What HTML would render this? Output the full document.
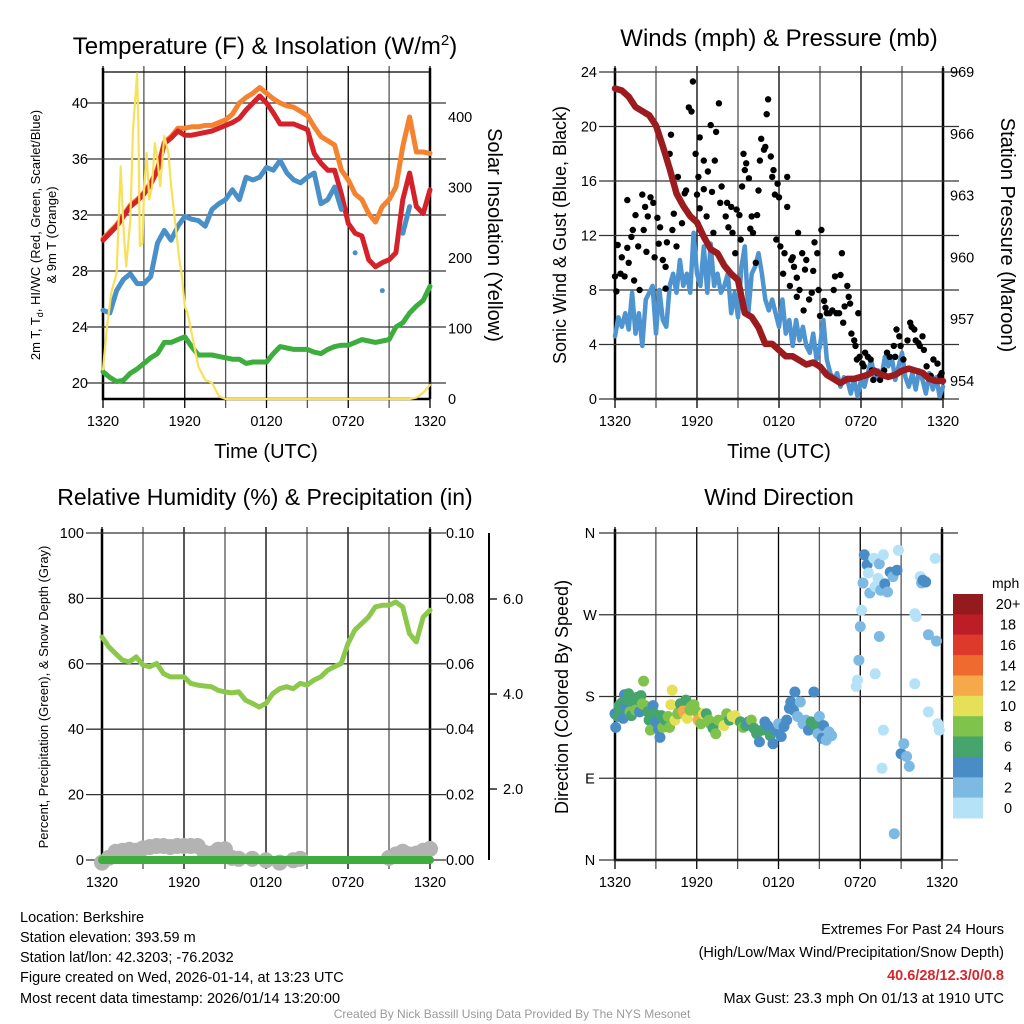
<!DOCTYPE html>
<html><head><meta charset="utf-8">
<style>
html,body{margin:0;padding:0;background:#fff;}
svg{display:block;font-family:"Liberation Sans",Arial,sans-serif;}
</style></head>
<body>
<svg id="fig" width="1024" height="1024" viewBox="0 0 1024 1024">
<rect width="1024" height="1024" fill="#fff"/>
<text x="265" y="54" font-size="24" text-anchor="middle">Temperature (F) &amp; Insolation (W/m<tspan dy="-9" font-size="15">2</tspan><tspan dy="9">)</tspan></text>
<text x="779" y="46" font-size="24" text-anchor="middle">Winds (mph) &amp; Pressure (mb)</text>
<text x="265" y="505" font-size="23" text-anchor="middle">Relative Humidity (%) &amp; Precipitation (in)</text>
<text x="779" y="505" font-size="23" text-anchor="middle">Wind Direction</text>

<text x="266" y="458" font-size="20" text-anchor="middle">Time (UTC)</text>
<text x="779" y="458" font-size="20" text-anchor="middle">Time (UTC)</text>
<text transform="translate(40,235) rotate(-90)" font-size="13" text-anchor="middle">2m T, T<tspan dy="3" font-size="9">d</tspan><tspan dy="-3">, HI/WC (Red, Green, Scarlet/Blue)</tspan></text>
<text transform="translate(56,235) rotate(-90)" font-size="13" text-anchor="middle">&amp; 9m T (Orange)</text>
<text transform="translate(488,235) rotate(90)" font-size="20" text-anchor="middle">Solar Insolation (Yellow)</text>
<text transform="translate(566,235) rotate(-90)" font-size="18" text-anchor="middle">Sonic Wind &amp; Gust (Blue, Black)</text>
<text transform="translate(1001,235) rotate(90)" font-size="20" text-anchor="middle">Station Pressure (Maroon)</text>
<text transform="translate(48,697) rotate(-90)" font-size="13" text-anchor="middle">Percent, Precipitation (Green), &amp; Snow Depth (Gray)</text>
<text transform="translate(568,697) rotate(-90)" font-size="18" text-anchor="middle">Direction (Colored By Speed)</text>
<text x="992" y="588" font-size="14" text-anchor="start">mph</text>

<g font-size="14.5">
<text x="20" y="922">Location: Berkshire</text>
<text x="20" y="942">Station elevation: 393.59 m</text>
<text x="20" y="962">Station lat/lon: 42.3203; -76.2032</text>
<text x="20" y="982">Figure created on Wed, 2026-01-14, at 13:23 UTC</text>
<text x="20" y="1003">Most recent data timestamp: 2026/01/14 13:20:00</text>
</g>
<g font-size="14.5" text-anchor="end">
<text x="1004" y="934">Extremes For Past 24 Hours</text>
<text x="1004" y="957">(High/Low/Max Wind/Precipitation/Snow Depth)</text>
<text x="1004" y="980" fill="#d7262c" font-weight="bold">40.6/28/12.3/0/0.8</text>
<text x="1004" y="1003">Max Gust: 23.3 mph On 01/13 at 1910 UTC</text>
</g>
<text x="512" y="1018" font-size="12" fill="#9a9a9a" text-anchor="middle">Created By Nick Bassill Using Data Provided By The NYS Mesonet</text>
</svg>
<script>
const xTickHours=[0,6,12,18,24];
const xTickLabels=['1320','1920','0120','0720','1320'];
// Temperature panel
const tHours=[0,0.5,1,1.5,2,2.5,3,3.5,4,4.5,5,5.5,6,6.5,7,7.5,8,8.5,9,9.5,10,10.5,11,11.5,12,12.5,13,13.5,14,14.5,15,15.5,16,16.5,17,17.5,18,18.5,19,19.5,20,20.5,21,21.5,22,22.5,23,23.5,24];
const tempRed=[30.2,30.7,31.2,31.9,32.6,33,33.5,34.2,35.2,37.1,37.5,38,37.7,37.7,37.8,37.9,38,38.2,38.4,38.6,38.9,39.5,40,40.5,40,39.3,38.5,38.5,38.5,38.3,38.1,36.4,35.7,35.2,35.2,33.5,31.4,30.7,30.5,28.8,28.3,28.6,28.8,29.3,33.1,35,32.6,32.1,33.8];
const tempOrange=[30.3,30.8,31.3,32,32.7,33.1,33.6,34.3,35.3,37.2,37.6,38.2,38.2,38.3,38.3,38.4,38.4,38.6,38.8,39.2,40,40.4,40.7,41.1,40.7,40.3,40,39.8,39.7,39.4,39.1,38.3,37.6,37.3,37,35.2,34.5,33.5,33.1,32.1,31.5,32.6,33.1,34,36.9,39,36.5,36.5,36.4];
const tempBlue=[25.2,25,26.6,27.4,27.8,27.1,27.1,27.6,30,30.9,30.2,31.2,31.9,31.7,31.6,31.2,32.4,32.8,33.1,33.8,33.1,34.7,34.5,34.7,35.4,35.2,35.9,35,34.5,34.3,34.7,35,32.8,33.1,34,32.4,null,29.3,null,null,null,26.6,null,null,30.7,32.6,null,null,null];
const dewGreen=[20.8,20.4,20.1,20.2,20.7,21,21.4,21.8,22.1,22.9,22.9,23.1,23.3,22.6,22,22,22,21.9,21.8,21.7,21.7,21.4,21.5,21.5,21.5,22.1,22.6,22.5,22.4,22.4,22.4,22.2,22.1,22.4,22.6,22.7,22.7,22.9,23.1,23,22.9,23,23.1,24,24.3,25,25.5,25.9,26.9];
const solarHours=[0,0.3,0.6,1,1.3,1.5,1.7,2,2.2,2.4,2.5,2.6,2.7,2.9,3,3.2,3.4,3.6,3.8,4,4.2,4.5,4.8,5,5.3,5.6,5.8,6,6.2,6.5,7,7.5,8,8.5,9,12,18,22.5,23,23.5,24];
const solarValues=[42,103,150,179,330,245,188,254,382,434,462,387,217,221,292,349,283,302,363,339,302,373,349,302,250,198,174,131,122,94,46,27,23,4,0,0,0,0,2,9,20];
const tempTicks=[20,24,28,32,36,40];
const solarTicks=[0,100,200,300,400];
// Winds panel
const wHours=[0,0.25,0.5,0.75,1,1.25,1.5,1.75,2,2.25,2.5,2.75,3,3.25,3.5,3.75,4,4.25,4.5,4.75,5,5.25,5.5,5.75,6,6.25,6.5,6.75,7,7.25,7.5,7.75,8,8.25,8.5,8.75,9,9.25,9.5,9.75,10,10.25,10.5,10.75,11,11.25,11.5,11.75,12,12.25,12.5,12.75,13,13.25,13.5,13.75,14,14.25,14.5,14.75,15,15.25,15.5,15.75,16,16.25,16.5,16.75,17,17.25,17.5,17.75,18,18.25,18.5,18.75,19,19.25,19.5,19.75,20,20.25,20.5,20.75,21,21.25,21.5,21.75,22,22.25,22.5,22.75,23,23.25,23.5,23.75,24];
const windSpeed=[4.6,6,5.3,6.3,5.1,7.8,4.8,6.3,3.9,7.3,7.8,8.3,4.8,8,5.8,5.3,8.3,9.2,7.8,10.2,8.3,9.2,7.8,12.2,9.2,8.3,11.2,7.8,11.4,8.3,9.2,7.8,8.3,9.2,6.3,7.8,6,9.7,11.2,6.3,9.2,9.7,10.7,9.2,7.3,6.5,7.3,6.3,5.3,7.3,4.8,5.8,3.9,5.8,4.3,5.3,3.9,3.4,4.8,2.9,3.9,5.8,2.9,1.9,1.4,1.9,0.9,1.6,1.4,0.4,1.4,0.2,1.4,0.9,1.9,2.9,1.4,2.1,1.6,3.1,2.4,3.1,1.4,2.4,3.4,1.6,0.9,1.9,0.7,2.1,1.4,0.4,1.9,0.7,1.6,0.2,0.9];
const pHours=[0,0.5,1,1.5,2,2.5,3,3.5,4,4.5,5,5.5,6,6.5,7,7.5,8,8.5,9,9.5,10,10.5,11,11.5,12,12.5,13,13.5,14,14.5,15,15.5,16,16.5,17,17.5,18,18.5,19,19.5,20,20.5,21,21.5,22,22.5,23,23.5,24];
const pressure=[968.2,968.1,967.8,967.3,967.1,966.9,966.4,965.4,964.3,963.1,962.5,962,961.7,961,960.4,960.2,959.6,959.2,958.9,957.3,957.1,956.6,955.8,955.8,955.5,955.2,955.2,955,954.8,954.9,954.7,954.3,954.1,953.9,954.1,954.1,954.2,954.3,954.5,954.3,954.2,954.3,954.5,954.6,954.5,954.4,954.1,954,954];
const gustHours=[0,0.1,0.2,0.4,0.5,0.7,0.9,0.9,1,1.2,1.3,1.4,1.5,1.7,1.8,2,2.1,2.2,2.3,2.4,2.6,2.8,2.9,3.1,3.2,3.3,3.5,3.7,3.7,3.8,4,4.1,4.2,4.3,4.5,4.6,4.9,5.1,5.2,5.4,5.6,5.7,5.9,6,6.1,6.2,6.2,6.5,6.5,6.7,6.8,7,7.1,7.2,7.3,7.4,7.6,7.7,7.8,8.1,8.2,8.3,8.5,8.6,8.8,8.9,9.1,9.2,9.3,9.4,9.5,9.6,9.8,9.9,10,10.1,10.3,10.4,10.5,10.6,10.7,10.9,11,11.1,11.2,11.4,11.5,11.6,11.7,11.8,11.9,12,12.1,12.3,12.4,12.6,12.6,12.8,12.9,13,13.1,13.3,13.3,13.4,13.5,13.7,13.8,13.9,14,14.2,14.4,14.5,14.6,14.8,14.9,15,15.1,15.3,15.4,15.5,15.7,15.9,16,16.1,16.2,16.4,16.5,16.6,16.7,16.8,17,17.1,17.2,17.3,17.5,17.6,17.7,17.8,17.9,18.1,18.2,18.3,18.5,18.7,18.8,18.9,19.2,19.4,19.7,19.9,20.1,20.4,20.5,20.6,20.8,20.9,21.1,21.4,21.6,21.7,21.9,22,22.2,22.3,22.5,22.6,22.8,23.1,23.3,23.6,23.8,23.9];
const gustValues=[9,7.9,11.3,9.2,10.4,9,11.1,14.6,10,11.9,12.4,8.7,13.5,11.2,8,15,12.4,14.1,10.8,13.4,14.8,14.4,10.4,13.3,11.4,12.6,10.2,9.7,8.1,11.5,18,19.4,12.4,13.6,11.2,16.3,12.9,15.1,15.3,21.4,21.1,23.3,18,15,16.3,19.2,14,17.5,15.4,13.4,16.7,20.1,15.2,12.2,17.5,19.6,21.7,14.4,15.6,13.4,14.4,12.6,14.1,12.2,10.7,13.9,13.5,11.7,15.6,18,16.8,17.3,16.2,12.5,13.4,12.2,10,13.5,15.3,17.5,19.1,18.3,18.5,20.9,22,17.8,16.3,16.8,15,11.7,15.8,14.8,11.2,9.2,10.7,14.1,16.3,8.3,10.2,10.4,9.7,8.9,7.5,12.2,8,10.7,6.5,9.5,10.2,7.3,7.8,9.4,11.5,10.7,8,6.1,12.4,7.2,6.7,6.3,6.3,6.5,8,9,6.3,6.3,9.1,10.7,5.6,6.8,8.3,7.5,7,4.8,4.3,3.9,2.9,6.3,3.1,2.6,2.4,3.4,3.1,2.9,2.1,1.4,1.9,1.4,2.1,3.4,3.1,3.9,3.1,5.1,4.6,3.9,2.9,4.3,5.6,5.3,5.1,4.3,4.1,3.9,4.6,3.6,2.4,1.7,2.9,2.6,1.7,1.9];
const windTicks=[0,4,8,12,16,20,24];
const pressureTicks=[954,957,960,963,966,969];
// Humidity panel
const rhHours=tHours;
const rhValues=[68.2,65.2,63.1,61.1,60.6,62.1,59.6,59.1,60.1,57,56,56,56,54,53.5,53.2,53,51.9,51.4,51.1,51.4,48.9,47.9,46.8,47.9,50.9,52.4,53,52.4,54,53.5,55,56,58,59.1,60.1,66.2,70.3,72.3,74.3,77.4,77.9,77.9,78.9,77.4,69.2,66.7,74.3,76.4];
const precipValues=[0,0,0,0,0,0,0,0,0,0,0,0,0,0,0,0,0,0,0,0,0,0,0,0,0,0,0,0,0,0,0,0,0,0,0,0,0,0,0,0,0,0,0,0,0,0,0,0,0];
const snowHours=[0,0.5,1,1.5,2,2.5,3,3.5,4,4.5,5,5.5,6,6.5,7,7.5,8,8.5,9,9.5,10,11,12,13,14,14.5,21,21.5,22,22.5,23,23.5,24];
const snowDepth=[0.45,0.55,0.68,0.7,0.72,0.7,0.75,0.78,0.8,0.8,0.78,0.8,0.8,0.8,0.8,0.66,0.64,0.72,0.73,0.55,0.53,0.53,0.5,0.45,0.5,0.53,0.55,0.62,0.68,0.62,0.64,0.7,0.74];
const rhTicks=[0,20,40,60,80,100];
const precipTicks=['0.00','0.02','0.04','0.06','0.08','0.10'];
const snowTicks=['2.0','4.0','6.0'];
// Wind direction panel
const dirHours=[0,0.05,0.2,0.3,0.4,0.5,0.6,0.7,0.8,0.9,1,1.1,1.2,1.4,1.5,1.6,1.8,1.9,2,2.1,2.2,2.4,2.5,2.6,2.8,2.9,3,3.2,3.3,3.4,3.5,3.7,3.9,4,4.1,4.2,4.4,4.6,4.7,4.8,5,5.1,5.2,5.3,5.5,5.6,5.8,6,6.1,6.3,6.5,6.7,6.9,7,7.2,7.4,7.6,7.8,8,8.2,8.4,8.6,8.8,9,9.2,9.4,9.6,9.8,10,10.2,10.4,10.6,10.8,11,11.2,11.4,11.6,11.8,12,12.2,12.4,12.6,12.8,12.9,13.1,13.2,13.4,13.6,13.8,14,14.2,14.4,14.6,14.7,14.9,15,15.2,15.3,15.5,15.7,15.9,17.8,17.7,17.9,18,18.1,18.2,18.3,18.5,18.6,18.7,19,19.1,19.3,19.4,19.5,19.7,19.8,20,20.2,20.4,20.7,20.8,19.1,19.4,19.6,19.7,20.5,21,21.2,21.4,21.6,22,22.1,22.4,22.5,22.6,22.8,23,22,23,23.5,23.6,23.7,23.8];
const dirValues=[161,146,158,170,163,173,156,182,169,176,183,163,159,174,165,179,163,181,172,197,170,163,154,143,170,161,152,144,135,159,146,154,158,146,171,187,154,161,163,172,164,161,176,156,165,169,171,163,154,150,161,161,154,150,145,139,154,152,148,161,154,158,159,154,152,146,148,152,154,145,139,130,143,152,148,137,128,143,150,136,147,154,167,174,165,185,158,174,150,154,143,152,185,148,139,158,134,148,132,141,137,198,191,220,257,275,305,336,325,316,294,332,301,310,326,297,336,304,295,317,312,319,341,205,246,101,143,29,117,128,114,103,271,268,312,305,308,306,248,194,163,332,241,150,143];
const dirSpeed=[5,4,7,6,7,6,5,4,5,7,6,8,7,6,8,7,4,6,8,8,8,7,6,8,4,6,5,4,4,6,8,7,8,8,10,10,10,9,8,7,12,13,7,11,9,8,9,9,12,8,10,7,8,8,6,8,8,9,10,8,7,10,11,10,7,8,6,5,9,6,6,4,6,5,4,7,4,4,3,4,4,5,4,4,5,4,3,3,3,3,4,6,4,6,3,3,4,4,2,3,3,1,1,2,2,1,3,4,4,1,2,1,1,1,2,3,1,4,3,4,3,4,1,1,2,1,1,3,4,3,3,3,1,1,1,3,4,4,2,1,1,1,2,1,1];
const dirTicks=[360,270,180,90,0];
const dirTickLabels=['N','W','S','E','N'];
const colorbarLabels=['20+','18','16','14','12','10','8','6','4','2','0'];
const speedColors=['#b5e2f7','#7cb9e3','#4a8cc6','#46a56c','#7fc34c','#e6e058','#f6a948','#ee6a2f','#dd3a2b','#bd1d27','#931a1d'];

const NS='http://www.w3.org/2000/svg';
const svg=document.getElementById('fig');
function mk(tag,attrs,parent){const e=document.createElementNS(NS,tag);for(const k in attrs)e.setAttribute(k,attrs[k]);(parent||svg).appendChild(e);return e;}
function txt(x,y,s,anchor,size,parent){const e=mk('text',{x:x,y:y,'text-anchor':anchor,'font-size':size},parent);e.textContent=s;return e;}
function polyline(xs,ys,fx,fy,color,width,name){
  let seg=[];const segs=[];
  for(let i=0;i<xs.length;i++){if(ys[i]===null||ys[i]===undefined){if(seg.length)segs.push(seg);seg=[];}else seg.push(fx(xs[i]).toFixed(1)+','+fy(ys[i]).toFixed(1));}
  if(seg.length)segs.push(seg);
  segs.forEach(s=>{
    if(s.length===1)s.push(s[0]);
    const p=mk('polyline',{points:s.join(' '),fill:'none',stroke:color,'stroke-width':width,'stroke-linejoin':'round','stroke-linecap':'round'});
    
    
  });
}
function frame(L,R,T,B,fx,name){
  const g=mk('g',{});
  
  
  for(let h=0;h<=24;h+=3){
    const l=mk('line',{x1:fx(h),x2:fx(h),y1:T-6,y2:B+9,stroke:(h%6===0?'#000':'#555'),'stroke-width':1.3},g);
    
    
  }
  xTickHours.forEach((h,i)=>{
    const t=txt(fx(h),B+27,xTickLabels[i],'middle',14.5,g);
    
    
  });
  const ax=mk('path',{d:`M${L},${T-4}V${B}H${R}M${R},${T-4}V${B}`,fill:'none',stroke:'#000','stroke-width':2.5},g);
  
  
}
function hgrid(vals,fy,L,R,color,labelX,anchor,labels,name){
  vals.forEach((v,i)=>{
    const y=fy(v);
    if(color){const l=mk('line',{x1:L-16,x2:R+16,y1:y,y2:y,stroke:color,'stroke-width':1.3});
      
      }
    const t=txt(labelX,y+5,labels?labels[i]:String(v),anchor,14.5);
    
    
  });
}
function dots(xs,ys,fx,fy,r,color,name){
  for(let i=0;i<xs.length;i++){
    const c=mk('circle',{cx:fx(xs[i]).toFixed(1),cy:fy(ys[i]).toFixed(1),r:r,fill:color});
    
    
  }
}

// Panel 1
const X1=h=>103+h*327/24, YT=t=>383-(t-20)*14, YS=w=>399-w*0.705;
frame(103,430,72,399,X1,'temperature');
hgrid(tempTicks,YT,103,430,'#333',88,'end',null,'temperature');
hgrid(solarTicks,YS,430,430,null,448,'start',null,'insolation');
mk('line',{x1:103,x2:430,y1:72,y2:72,stroke:'#000','stroke-width':1.3});
polyline(tHours,dewGreen,X1,YT,'#3dae3d',5,'dewpoint-line');
polyline(tHours,tempOrange,X1,YT,'#f5822f',5,'temp-9m-line');
polyline(tHours,tempRed,X1,YT,'#d52129',5,'temp-2m-line');
polyline(tHours,tempBlue,X1,YT,'#4a90c8',5,'heat-index-windchill-line');
polyline(solarHours,solarValues,X1,YS,'#f8e15a',2.2,'solar-insolation-line');

// Panel 2
const X2=h=>615+h*328/24, YW=s=>399-s*327/24, YP=p=>381-(p-954)*61.8/3;
frame(615,943,72,399,X2,'winds');
hgrid(windTicks,YW,615,943,'#333',597,'end',null,'wind');
hgrid(pressureTicks,YP,943,943,null,950,'start',null,'pressure');
polyline(wHours,windSpeed,X2,YW,'#4d94d0',4.5,'sonic-wind-line');
dots(gustHours,gustValues,X2,YW,3.2,'#000','gust-point');
polyline(pHours,pressure,X2,YP,'#9b1b1e',6.5,'pressure-line');

// Panel 3
const X3=h=>102+h*328/24, YR=r=>860-r*3.27, YPr=p=>860-p*3270, YSn=v=>884-v*47.5;
frame(102,430,533,860,X3,'humidity');
hgrid(rhTicks,YR,102,430,'#333',84,'end',null,'humidity');
hgrid(precipTicks.map(Number),YPr,430,430,null,446,'start',precipTicks,'precip');
const sa=mk('line',{x1:489,x2:489,y1:533,y2:860,stroke:'#000','stroke-width':2});


snowTicks.forEach(s=>{
  const y=YSn(Number(s));
  mk('line',{x1:489,x2:497,y1:y,y2:y,stroke:'#000','stroke-width':1.3});
  const t=txt(503,y+5,s,'start',14.5);
  
  
});
dots(snowHours,snowDepth,X3,YSn,8,'#b3b3b3','snow-depth-point');
polyline(rhHours,precipValues,X3,YPr,'#3dae3d',8,'precipitation-line');
polyline(rhHours,rhValues,X3,YR,'#8cc84b',5,'relative-humidity-line');

// Panel 4
const X4=h=>615+h*327/24, YD=d=>860-d*327/360;
frame(615,942,533,860,X4,'direction');
hgrid(dirTicks,YD,615,942,'#333',590,'middle',dirTickLabels,'direction');
function speedColor(s){const b=Math.min(10,Math.floor(s/2));return speedColors[b];}
for(let i=0;i<dirHours.length;i++){
  const c=mk('circle',{cx:X4(dirHours[i]).toFixed(1),cy:YD(dirValues[i]).toFixed(1),r:5.5,fill:speedColor(dirSpeed[i])});
  
  
}
const cbH=224/11;
colorbarLabels.forEach((lab,i)=>{
  const y=594+i*cbH;
  const r=mk('rect',{x:953,y:y.toFixed(1),width:30,height:(cbH+0.5).toFixed(1),fill:speedColors[10-i]});
  
  
  const t=txt(1008,y+cbH/2+5,lab,'middle',14.5);
  
  
});
</script>
</body></html>
